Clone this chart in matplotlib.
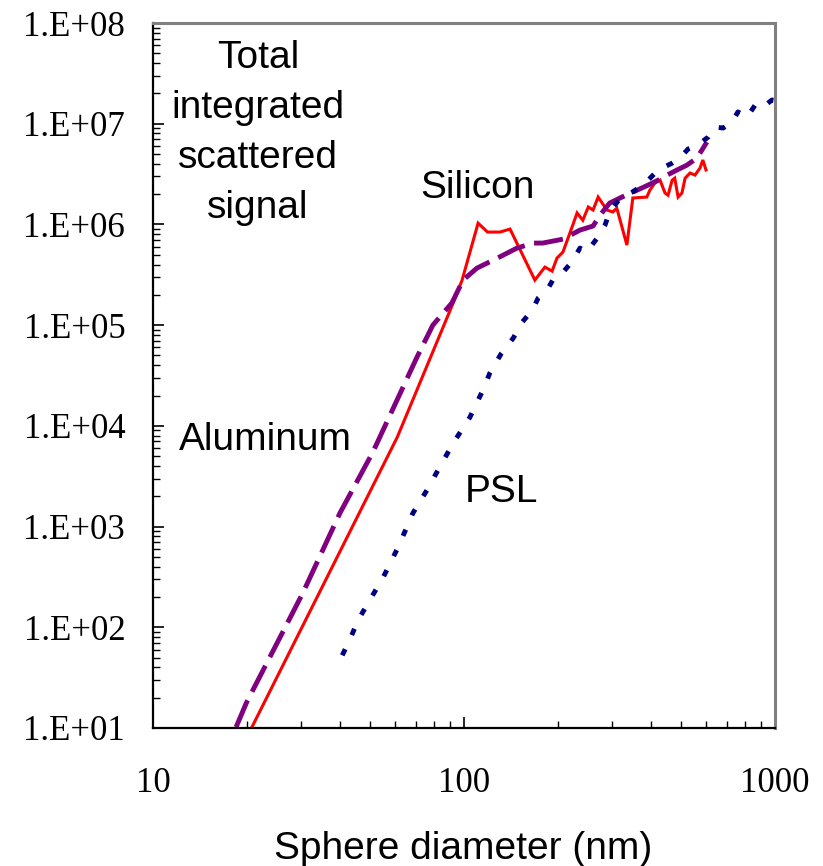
import numpy as np
import matplotlib
matplotlib.use("Agg")
import matplotlib.pyplot as plt
from matplotlib.ticker import FuncFormatter, LogLocator, NullFormatter

# Silicon (red, solid)
si_x = [20.8, 61, 92.3, 98.6, 111, 119, 130.5, 140.6, 169, 182, 192, 199, 208, 219,
        231, 241, 251, 260, 270, 288, 301, 310, 334, 349, 387, 396, 411, 427, 443, 453,
        467, 476, 488, 502, 514, 533, 553, 574, 586, 600]
si_y = [10.2, 7710, 1.66e5, 2.8e5, 1.03e6, 8.4e5, 8.4e5, 9.0e5, 2.8e5, 3.77e5, 3.44e5,
        4.63e5, 5.31e5, 8.2e5, 1.30e6, 1.10e6, 1.49e6, 1.39e6, 1.87e6, 1.39e6, 1.33e6,
        1.45e6, 6.24e5, 1.83e6, 1.87e6, 2.19e6, 2.58e6, 2.75e6, 2.05e6, 1.95e6, 2.75e6,
        2.88e6, 1.87e6, 2.05e6, 2.88e6, 3.24e6, 3.09e6, 3.63e6, 4.36e6, 3.47e6]

# Aluminum (purple, dashed)
al_x = [18.5, 20.0, 30.3, 39.9, 50.9, 70.6, 79.4, 91.4, 99.3, 110, 128, 148, 167, 179,
        208, 236, 260, 274, 294, 322, 349, 391, 421, 450, 484, 521, 561, 604]
al_y = [10.2, 18, 218, 1360, 5470, 4.81e4, 1.0e5, 1.66e5, 2.8e5, 3.68e5, 4.63e5, 5.82e5,
        6.53e5, 6.53e5, 7.14e5, 8.79e5, 9.64e5, 1.24e6, 1.63e6, 1.87e6, 2.09e6, 2.46e6,
        2.75e6, 3.09e6, 3.47e6, 3.88e6, 4.56e6, 6.58e6]

# PSL (navy, dotted)
psl_x = [40.6, 43.0, 45.6, 49.1, 55.0, 61.4, 68.5, 76.0, 81.8, 92.3, 104.5, 115, 121,
         132, 144, 153, 166, 173, 185, 193, 207, 222, 236, 248, 268, 284, 294, 318, 347,
         377, 421, 467, 495, 525, 565, 610, 641, 681, 728, 760, 813, 863, 908, 977, 1000]
psl_y = [52.7, 76, 117, 173, 314, 624, 1360, 2300, 3470, 6730, 1.22e4, 2.26e4, 3.33e4,
         5.27e4, 7.43e4, 1.05e5, 1.41e5, 1.85e5, 2.23e5, 2.8e5, 3.29e5, 4.23e5, 5.82e5,
         5.31e5, 7.31e5, 9.84e5, 1.33e6, 1.83e6, 2.09e6, 2.46e6, 3.47e6, 4.06e6, 4.56e6,
         5.60e6, 6.14e6, 7.38e6, 9.27e6, 9.06e6, 1.04e7, 1.31e7, 1.16e7, 1.53e7, 1.43e7,
         1.72e7, 1.70e7]

note_lines = ["Total", "integrated", "scattered", "signal"]

W, H = 823, 866
fig = plt.figure(figsize=(W / 100, H / 100), dpi=100)
ax = fig.add_axes([153 / W, 1 - 728 / H, 622 / W, 705 / H])

ax.plot(si_x, si_y, color="#FF0000", lw=2.2, solid_joinstyle="miter")
ax.plot(al_x, al_y, color="#800080", lw=3.5, linestyle=(0, (6, 2)))
ax.plot(psl_x, psl_y, color="#000080", lw=3.5, linestyle=(0, (1.4, 3.2)))

ax.set_xscale("log")
ax.set_yscale("log")
ax.set_xlim(10, 1000)
ax.set_ylim(10, 1e8)

ax.yaxis.set_major_locator(LogLocator(base=10, numticks=10))
ax.yaxis.set_minor_locator(LogLocator(base=10, subs=np.arange(2, 10), numticks=10))
ax.yaxis.set_major_formatter(FuncFormatter(lambda v, p: "1.E+%02d" % round(np.log10(v))))
ax.yaxis.set_minor_formatter(NullFormatter())
ax.xaxis.set_major_formatter(FuncFormatter(lambda v, p: "%d" % round(v)))
ax.xaxis.set_minor_formatter(NullFormatter())

ax.tick_params(which="both", direction="in", top=False, right=False, color="black")
ax.tick_params(which="major", length=8, width=1.2)
ax.tick_params(which="minor", length=5, width=1.0)
ax.tick_params(axis="y", which="major", pad=20)
ax.tick_params(axis="x", which="major", pad=28)
for lab in ax.get_xticklabels() + ax.get_yticklabels():
    lab.set_family("Liberation Serif")
    lab.set_fontsize(25)

for side in ["left", "bottom"]:
    ax.spines[side].set_color("black")
    ax.spines[side].set_linewidth(1.6)
for side in ["top", "right"]:
    ax.spines[side].set_color("#808080")
    ax.spines[side].set_linewidth(2.2)

sans = dict(fontsize=28, family="Liberation Sans", ha="center", va="baseline")

# x axis title
fig.text(463 / W, 1 - 859 / H, "Sphere diameter (nm)", **sans)

# annotations (baseline positions in pixels)
for i, line in enumerate(note_lines):
    fig.text(258 / W, 1 - (68 + 50 * i) / H, line, **sans)
fig.text(477 / W, 1 - 198 / H, "Silicon", **sans)
fig.text(265 / W, 1 - 450 / H, "Aluminum", **sans)
fig.text(501 / W, 1 - 502 / H, "PSL", **sans)

fig.savefig("out.png", dpi=100)
